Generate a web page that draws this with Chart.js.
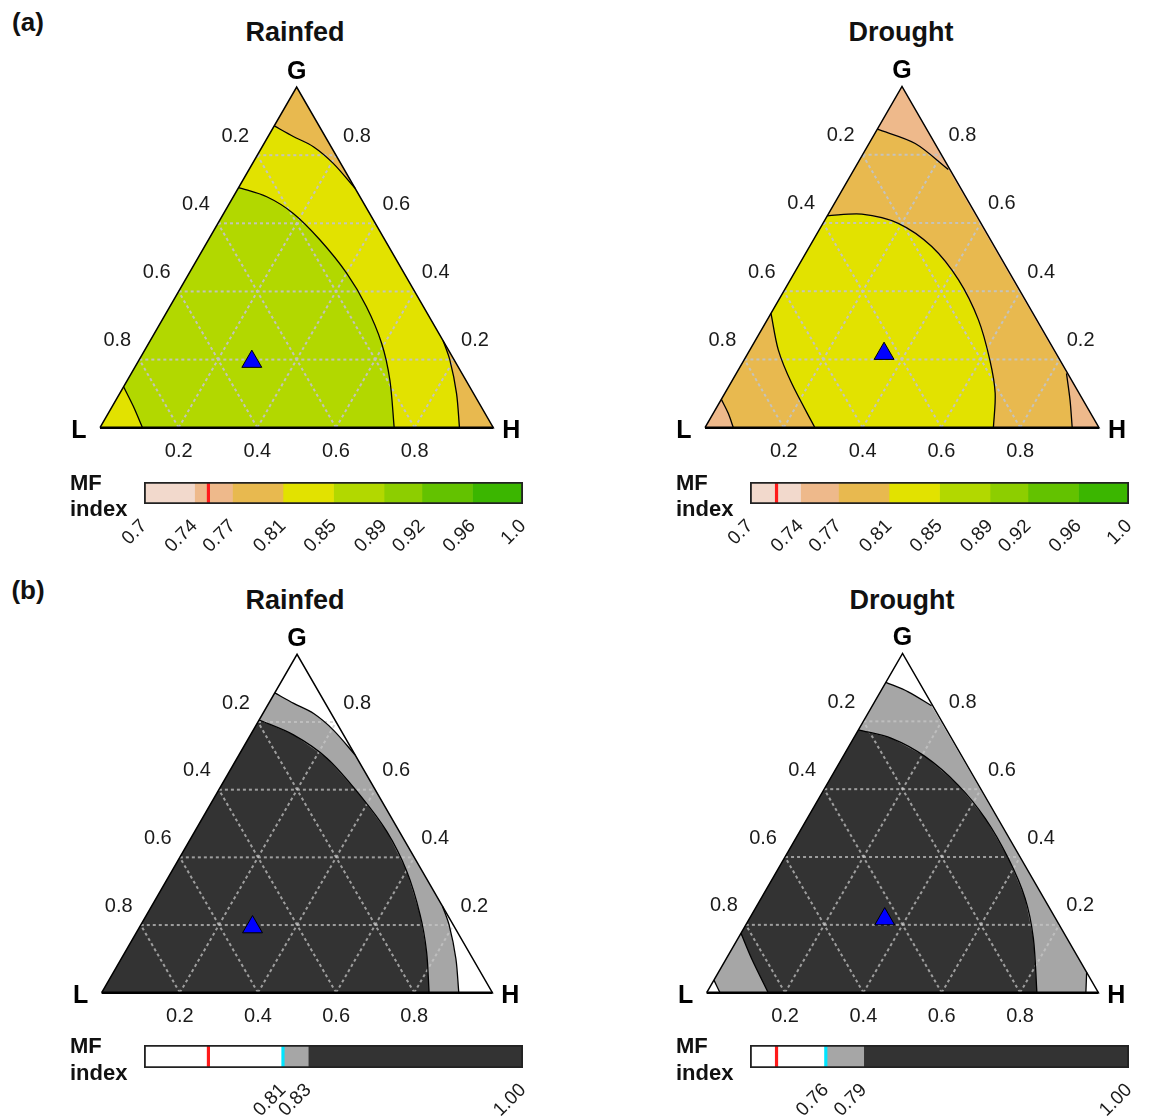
<!DOCTYPE html>
<html>
<head>
<meta charset="utf-8">
<title>MF index ternary plots</title>
<script src="https://cdn.jsdelivr.net/npm/chart.js@4.4.1/dist/chart.umd.min.js"></script>
<style>
  html, body { margin: 0; background: #fff; }
  #page { position: relative; width: 1151px; height: 1119px; overflow: hidden; font-family: "Liberation Sans", Arial, sans-serif; color: #111; }
  #page canvas { position: absolute; }
  .lbl { position: absolute; font-weight: bold; line-height: 1; white-space: nowrap; transform: translate(-50%, -50%); }
</style>
</head>
<body>
<div id="page">
  <div class="lbl" style="left:28px;top:22px;font-size:26px">(a)</div>
  <div class="lbl" style="left:295px;top:32px;font-size:27px">Rainfed</div>
  <div class="lbl" style="left:901px;top:32px;font-size:27px">Drought</div>
  <div class="lbl" style="left:28px;top:590px;font-size:26px">(b)</div>
  <div class="lbl" style="left:295px;top:600px;font-size:27px">Rainfed</div>
  <div class="lbl" style="left:902px;top:600px;font-size:27px">Drought</div>
</div>
<script>
// ternary grid levels and their labels
const gridVals = [0.2, 0.4, 0.6, 0.8];
const gridLabels = ['0.2', '0.4', '0.6', '0.8'];

// contour lines, as [G, H] shares (L = 1 - G - H)
// Rainfed
const rain081Top = [[0.886, 0], [0.855, 0.064], [0.825, 0.130], [0.776, 0.205], [0.703, 0.297]];
const rain081Right = [[0.255, 0.745], [0.199, 0.790], [0.101, 0.856], [0, 0.914]];
const rain083 = [[0.806, 0], [0.762, 0.110], [0.693, 0.230], [0.584, 0.369], [0.476, 0.492],
                 [0.358, 0.602], [0.230, 0.700], [0.121, 0.771], [0, 0.838]];
const rain085 = [[0.705, 0], [0.678, 0.085], [0.629, 0.177], [0.551, 0.284], [0.453, 0.401],
                 [0.355, 0.500], [0.248, 0.592], [0.140, 0.667], [0, 0.748]];
const rain085Corner = [[0.120, 0], [0.062, 0.054], [0, 0.108]];

// Drought
const dro076Top = [[0.915, 0], [0.887, 0.071], [0.846, 0.151]];
const dro076Left = [[0.037, 0], [0, 0.034]];
const dro076Right = [[0.060, 0.940], [0, 0.968]];
const dro077Top = [[0.875, 0], [0.833, 0.117], [0.757, 0.239]];
const dro077Left = [[0.083, 0], [0.042, 0.038], [0, 0.072]];
const dro077Right = [[0.159, 0.838], [0.081, 0.886], [0, 0.932]];
const dro079 = [[0.775, 0], [0.750, 0.097], [0.696, 0.210], [0.612, 0.336], [0.514, 0.454],
                [0.396, 0.572], [0.278, 0.674], [0.160, 0.754], [0, 0.843]];
const dro079Left = [[0.175, 0], [0.101, 0.064], [0, 0.157]];
const dro081 = [[0.621, 0], [0.626, 0.085], [0.599, 0.191], [0.531, 0.310], [0.433, 0.427],
                [0.316, 0.536], [0.198, 0.624], [0.101, 0.686], [0, 0.732]];
const dro081Left = [[0.335, 0], [0.228, 0.072], [0.130, 0.155], [0, 0.279]];

// blue triangles [G, H]
const rainMarker = [0.194, 0.289];
const droMarker = [0.217, 0.346];

// colour bars
const breaksA = [0.70, 0.74, 0.77, 0.81, 0.85, 0.89, 0.92, 0.96, 1.00];
const labelsA = ['0.7', '0.74', '0.77', '0.81', '0.85', '0.89', '0.92', '0.96', '1.0'];
const colorsA = ['#f2d9cc', '#eeb98b', '#e8b94f', '#e2e200', '#b2d800', '#8dce00', '#63c200', '#3bb600'];
const rainBreaksB = [0.70, 0.81, 0.83, 1.00];
const rainLabelsB = ['0.81', '0.83', '1.00'];
const droBreaksB = [0.70, 0.76, 0.79, 1.00];
const droLabelsB = ['0.76', '0.79', '1.00'];
const colorsB = ['#ffffff', '#a6a6a6', '#333333'];
const rainRef = 0.751;   // red marks
const droRef = 0.721;

Chart.defaults.font.family = '"Liberation Sans", Arial, sans-serif';
Chart.defaults.color = '#1a1a1a';

const SQ3 = Math.sqrt(3) / 2;
const toXY = ([g, h]) => ({ x: h + g / 2, y: g * SQ3 });
const line = list => list.map(toXY);
const rev = list => list.slice().reverse();
const TRI = [[0, 0], [1, 0], [0, 1]];

const page = document.getElementById('page');
function makeCanvas(left, top, width, height) {
  const c = document.createElement('canvas');
  c.width = width;
  c.height = height;
  c.style.left = left + 'px';
  c.style.top = top + 'px';
  c.style.width = width + 'px';
  c.style.height = height + 'px';
  page.appendChild(c);
  return c;
}

function fillSet(list, color, order) {
  return { data: line(list), showLine: true, fill: 'shape', backgroundColor: color,
           borderColor: 'transparent', borderWidth: 0, pointRadius: 0, tension: 0, order };
}
function arcSet(list) {
  return { data: line(list), showLine: true, fill: false, borderColor: '#000', borderWidth: 1.3,
           pointRadius: 0, tension: 0.3, order: 3 };
}
function gridSets(color) {
  const out = [];
  gridVals.forEach(v => {
    [[[v, 0], [v, 1 - v]], [[0, v], [1 - v, v]], [[0, 1 - v], [1 - v, 0]]].forEach(seg => {
      out.push({ data: line(seg), showLine: true, fill: false, borderColor: color, borderWidth: 2,
                 borderDash: [3, 3], pointRadius: 0, order: 5 });
    });
  });
  return out;
}
function frameSets() {
  return [
    { data: line([[0, 0], [1, 0], [0, 1], [0, 0]]), showLine: true, fill: false,
      borderColor: '#000', borderWidth: 1.5, pointRadius: 0, order: 2 },
    { data: line([[0, 0], [0, 1]]), showLine: true, fill: false,
      borderColor: '#000', borderWidth: 2.5, pointRadius: 0, order: 2 }
  ];
}
function markerSet(gh) {
  return { data: [toXY(gh)], showLine: false, pointStyle: 'triangle', pointRadius: 11.5,
           backgroundColor: '#0000ff', borderColor: '#000', borderWidth: 1, order: 1 };
}

// axis numbers and corner letters round each triangle
const ternaryText = {
  id: 'ternaryText',
  afterDatasetsDraw(chart) {
    const { ctx } = chart;
    const xs = chart.scales.x, ys = chart.scales.y;
    const at = gh => { const p = toXY(gh); return [xs.getPixelForValue(p.x), ys.getPixelForValue(p.y)]; };
    ctx.save();
    ctx.fillStyle = '#1a1a1a';
    ctx.textAlign = 'center';
    ctx.textBaseline = 'middle';
    ctx.font = '20px "Liberation Sans", Arial, sans-serif';
    gridVals.forEach((v, i) => {
      let [px, py] = at([1 - v, 0]);
      ctx.fillText(gridLabels[i], px - 22, py - 19);
      [px, py] = at([v, 1 - v]);
      ctx.fillText(gridLabels[i], px + 21, py - 19);
      [px, py] = at([0, v]);
      ctx.fillText(gridLabels[i], px, py + 24);
    });
    ctx.fillStyle = '#000';
    ctx.font = 'bold 25px "Liberation Sans", Arial, sans-serif';
    let [px, py] = at([1, 0]);
    ctx.fillText('G', px, py - 15);
    [px, py] = at([0, 0]);
    ctx.fillText('L', px - 21, py + 3);
    [px, py] = at([0, 1]);
    ctx.fillText('H', px + 18, py + 3);
    ctx.restore();
  }
};

function ternaryChart(geo, datasets) {
  const left = Math.round(geo.Lx - 70), top = Math.round(geo.By - 390);
  const width = Math.round(geo.side + 140), height = 440;
  const canvas = makeCanvas(left, top, width, height);
  const xMin = -(geo.Lx - left) / geo.side;
  const yMax = (geo.By - top) / geo.side;
  new Chart(canvas, {
    type: 'scatter',
    data: { datasets },
    options: {
      responsive: false,
      animation: false,
      events: [],
      layout: { padding: 0, autoPadding: false },
      plugins: { legend: { display: false }, tooltip: { enabled: false } },
      scales: {
        x: { type: 'linear', display: false, min: xMin, max: xMin + width / geo.side },
        y: { type: 'linear', display: false, min: yMax - height / geo.side, max: yMax }
      }
    },
    plugins: [ternaryText]
  });
}

function colorBar(geo, breaks, colors, tickVals, tickLabels, refVal, cutVal) {
  const canvas = makeCanvas(geo.x - 84, geo.y - 8, 84 + geo.w + 30, 8 + geo.h + 62);
  const sets = colors.map((c, i) => ({ data: [[breaks[i], breaks[i + 1]]], backgroundColor: c, order: 5 }));
  sets.push({ data: [[refVal - 0.001, refVal + 0.001]], backgroundColor: '#ff1a1a', order: 3 });
  if (cutVal !== undefined) {
    sets.push({ data: [[cutVal - 0.001, cutVal + 0.001]], backgroundColor: '#00e5ff', order: 3 });
  }
  sets.push({ data: [[breaks[0], breaks[breaks.length - 1]]], backgroundColor: 'rgba(0,0,0,0)',
              borderColor: '#222', borderWidth: 1.5, borderSkipped: false, order: 1 });
  new Chart(canvas, {
    type: 'bar',
    data: { labels: [['MF', 'index']], datasets: sets },
    options: {
      indexAxis: 'y',
      responsive: false,
      animation: false,
      events: [],
      datasets: { bar: { barPercentage: 1, categoryPercentage: 1, grouped: false, borderWidth: 0 } },
      layout: { padding: { left: 10, right: 30, top: 8, bottom: 0 }, autoPadding: false },
      plugins: { legend: { display: false }, tooltip: { enabled: false } },
      scales: {
        x: {
          type: 'linear', min: breaks[0], max: breaks[breaks.length - 1],
          grid: { display: false, drawTicks: false }, border: { display: false },
          afterBuildTicks: s => { s.ticks = tickVals.map(v => ({ value: v })); },
          afterFit: s => { s.height = 62; s.paddingLeft = 0; s.paddingRight = 0; },
          ticks: { autoSkip: false, minRotation: 45, maxRotation: 45, padding: 11,
                   color: '#1a1a1a', font: { size: 19 }, callback: (v, i) => tickLabels[i] }
        },
        y: {
          grid: { display: false, drawTicks: false }, border: { display: false },
          afterFit: s => { s.width = 74; s.paddingTop = 0; s.paddingBottom = 0; },
          ticks: { crossAlign: 'far', padding: 0, labelOffset: 4, color: '#111',
                   font: { size: 22, weight: 'bold', lineHeight: 1.2 } }
        }
      }
    }
  });
}

// (a) Rainfed
ternaryChart({ Lx: 100, By: 427.7, side: 393.3 }, [
  fillSet(TRI, colorsA[2], 12),
  fillSet([[0, 0], ...rain081Top, ...rain081Right], colorsA[3], 11),
  fillSet([...rain085, ...rev(rain085Corner)], colorsA[4], 10),
  ...gridSets('rgba(195,195,195,0.95)'),
  arcSet(rain081Top), arcSet(rain081Right), arcSet(rain085), arcSet(rain085Corner),
  ...frameSets(),
  markerSet(rainMarker)
]);
// (a) Drought
ternaryChart({ Lx: 705, By: 427.7, side: 394 }, [
  fillSet(TRI, colorsA[1], 12),
  fillSet([...rev(dro077Left), ...dro077Top, ...dro077Right], colorsA[2], 11),
  fillSet([...dro081, ...rev(dro081Left)], colorsA[3], 10),
  ...gridSets('rgba(195,195,195,0.95)'),
  arcSet(dro077Left), arcSet(dro077Top), arcSet(dro077Right), arcSet(dro081), arcSet(dro081Left),
  ...frameSets(),
  markerSet(droMarker)
]);
// (b) Rainfed
ternaryChart({ Lx: 101.7, By: 992.7, side: 390.7 }, [
  fillSet(TRI, colorsB[0], 12),
  fillSet([[0, 0], ...rain081Top, ...rain081Right], colorsB[1], 11),
  fillSet([[0, 0], ...rain083], colorsB[2], 10),
  ...gridSets('rgba(200,200,200,0.72)'),
  arcSet(rain081Top), arcSet(rain081Right), arcSet(rain083),
  ...frameSets(),
  markerSet(rainMarker)
]);
// (b) Drought
ternaryChart({ Lx: 706.7, By: 992.7, side: 391.7 }, [
  fillSet(TRI, colorsB[0], 12),
  fillSet([...rev(dro076Left), ...dro076Top, ...dro076Right], colorsB[1], 11),
  fillSet([...dro079, ...rev(dro079Left)], colorsB[2], 10),
  ...gridSets('rgba(200,200,200,0.72)'),
  arcSet(dro076Left), arcSet(dro076Top), arcSet(dro076Right), arcSet(dro079), arcSet(dro079Left),
  ...frameSets(),
  markerSet(droMarker)
]);

colorBar({ x: 144, y: 482, w: 379, h: 22 }, breaksA, colorsA, breaksA, labelsA, rainRef);
colorBar({ x: 750, y: 482, w: 379, h: 22 }, breaksA, colorsA, breaksA, labelsA, droRef);
colorBar({ x: 144, y: 1045, w: 379, h: 23 }, rainBreaksB, colorsB, rainBreaksB.slice(1), rainLabelsB, rainRef, rainBreaksB[1]);
colorBar({ x: 750, y: 1045, w: 379, h: 23 }, droBreaksB, colorsB, droBreaksB.slice(1), droLabelsB, droRef, droBreaksB[1]);
</script>
</body>
</html>
